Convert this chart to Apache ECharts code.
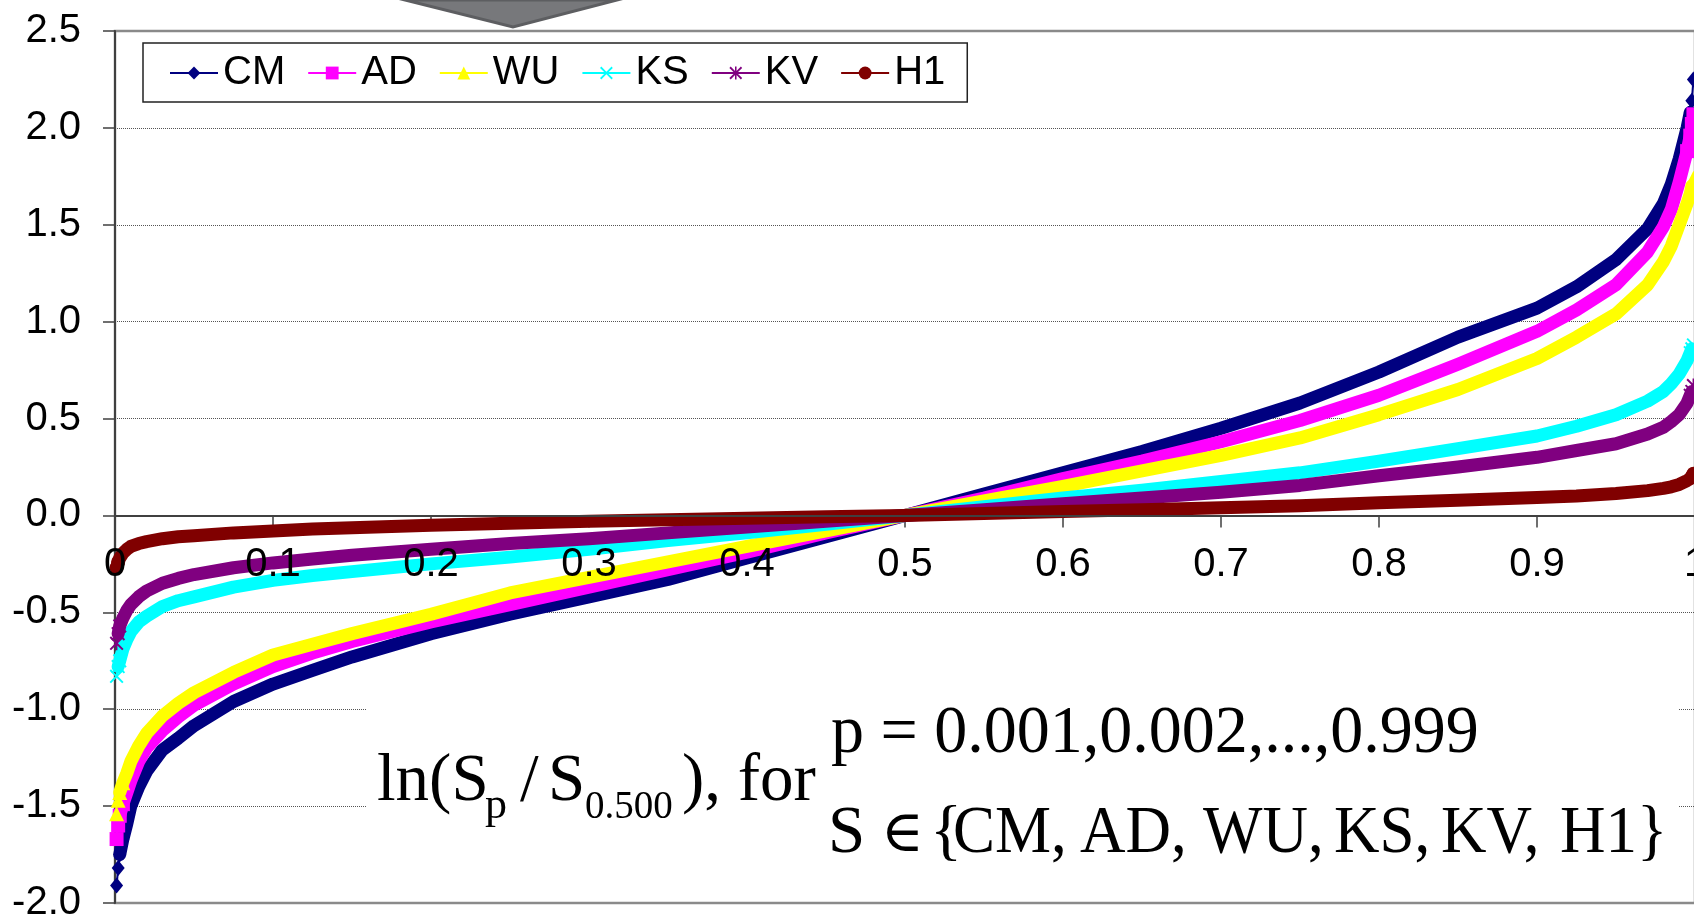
<!DOCTYPE html>
<html>
<head>
<meta charset="utf-8">
<title>ln(Sp / S0.500) curves</title>
<script src="https://cdn.jsdelivr.net/npm/echarts@6/dist/echarts.min.js"></script>
<style>
  html, body { margin: 0; padding: 0; background: #fff; }
  #chart { width: 1694px; height: 917px; }
</style>
</head>
<body>
<div id="chart"></div>
<script>
// ==========================================
// ln(S_p / S_0.500) for six statistics
// ==========================================

var pLevels = [0.001, 0.002, 0.003, 0.005, 0.0075, 0.01, 0.015, 0.02, 0.03, 0.04,
  0.05, 0.075, 0.1, 0.125, 0.15, 0.2, 0.25, 0.3, 0.35, 0.4,
  0.45, 0.5, 0.55, 0.6, 0.65, 0.7, 0.75, 0.8, 0.85, 0.9,
  0.925, 0.95, 0.97, 0.98, 0.985, 0.99, 0.995, 0.997, 0.998, 0.999];

var cmVals = [-1.91, -1.82, -1.75, -1.67, -1.59, -1.50, -1.40, -1.32, -1.21, -1.15,
  -1.085, -0.96, -0.87, -0.80, -0.73, -0.61, -0.51, -0.42, -0.33, -0.22,
  -0.11, 0, 0.11, 0.22, 0.33, 0.45, 0.58, 0.74, 0.92, 1.07,
  1.18, 1.32, 1.48, 1.61, 1.71, 1.84, 2.00, 2.08, 2.14, 2.25];

var adVals = [-1.67, -1.60, -1.55, -1.49, -1.43, -1.37, -1.27, -1.20, -1.11, -1.04,
  -0.98, -0.87, -0.78, -0.71, -0.65, -0.55, -0.46, -0.37, -0.28, -0.19,
  -0.09, 0, 0.09, 0.19, 0.28, 0.38, 0.49, 0.62, 0.78, 0.95,
  1.06, 1.19, 1.36, 1.49, 1.58, 1.72, 1.88, 1.96, 2.02, 2.07];

var wuVals = [-1.54, -1.47, -1.43, -1.38, -1.33, -1.27, -1.19, -1.125, -1.035, -0.97,
  -0.915, -0.81, -0.72, -0.665, -0.61, -0.51, -0.40, -0.32, -0.24, -0.16,
  -0.08, 0, 0.075, 0.15, 0.23, 0.31, 0.40, 0.52, 0.65, 0.81,
  0.92, 1.04, 1.19, 1.31, 1.39, 1.50, 1.61, 1.66, 1.70, 1.74];

var ksVals = [-0.83, -0.78, -0.75, -0.69, -0.64, -0.60, -0.55, -0.52, -0.47, -0.44,
  -0.42, -0.37, -0.335, -0.31, -0.29, -0.25, -0.215, -0.175, -0.13, -0.09,
  -0.045, 0, 0.045, 0.09, 0.13, 0.175, 0.22, 0.28, 0.345, 0.41,
  0.46, 0.52, 0.59, 0.64, 0.68, 0.73, 0.80, 0.84, 0.86, 0.88];

var kvVals = [-0.66, -0.61, -0.57, -0.53, -0.49, -0.46, -0.42, -0.39, -0.35, -0.325,
  -0.305, -0.27, -0.245, -0.225, -0.205, -0.175, -0.145, -0.12, -0.09, -0.06,
  -0.03, 0, 0.03, 0.06, 0.09, 0.12, 0.155, 0.205, 0.25, 0.30,
  0.335, 0.37, 0.42, 0.455, 0.485, 0.52, 0.58, 0.62, 0.64, 0.67];

var h1Vals = [-0.27, -0.24, -0.22, -0.195, -0.175, -0.16, -0.145, -0.135, -0.12, -0.11,
  -0.105, -0.09, -0.08, -0.07, -0.063, -0.05, -0.04, -0.03, -0.022, -0.015,
  -0.007, 0, 0.01, 0.02, 0.03, 0.04, 0.05, 0.065, 0.078, 0.092,
  0.10, 0.113, 0.128, 0.14, 0.148, 0.16, 0.18, 0.19, 0.20, 0.215];

var seriesNames = ['CM', 'AD', 'WU', 'KS', 'KV', 'H1'];
var xTickLabels = ['0', '0.1', '0.2', '0.3', '0.4', '0.5', '0.6', '0.7', '0.8', '0.9', '1'];
var yTickLabels = ['-2.0', '-1.5', '-1.0', '-0.5', '0.0', '0.5', '1.0', '1.5', '2.0', '2.5'];

// styling
var SANS = '"Liberation Sans", Arial, sans-serif';
var SERIF = '"Liberation Serif", "Times New Roman", "DejaVu Serif", serif';
var crossPath = 'path://M1,0L5,4L9,0L10,1L6,5L10,9L9,10L5,6L1,10L0,9L4,5L0,1Z';
var starPath = crossPath + 'M4.4,0L5.6,0L5.6,10L4.4,10Z';

var specs = [
  { vals: cmVals, color: '#000080', symbol: 'diamond', size: [13, 16], band: [2, 37] },
  { vals: adVals, color: '#ff00ff', symbol: 'rect', size: 14, band: [2, 37] },
  { vals: wuVals, color: '#ffff00', symbol: 'triangle', size: 15, band: [2, 38] },
  { vals: ksVals, color: '#00ffff', symbol: crossPath, size: 14, band: [1, 38] },
  { vals: kvVals, color: '#800080', symbol: starPath, size: 14, band: [1, 38] },
  { vals: h1Vals, color: '#800000', symbol: 'circle', size: 14, band: [0, 39] }
];

var series = [];
specs.forEach(function (s, i) {
  var pts = pLevels.map(function (p, k) { return [p, s.vals[k]]; });
  // markers only near the ends, where the original markers stand apart
  var markerPts = pts.map(function (pt, k) {
    var inside = k > s.band[0] + 1 && k < s.band[1] - 1;
    return inside ? { value: pt, symbol: 'none' } : { value: pt };
  });
  series.push({
    name: seriesNames[i], type: 'line', data: markerPts,
    symbol: s.symbol, symbolSize: s.size, showSymbol: true,
    lineStyle: { color: s.color, width: 2 },
    itemStyle: { color: s.color },
    markLine: i === 0 ? {
      silent: true, symbol: 'none', label: { show: false },
      lineStyle: { color: '#404040', width: 2, type: 'solid' },
      data: [{ yAxis: 0 }]
    } : undefined,
    emphasis: { disabled: true }, silent: true
  });
  // dense marker band
  series.push({
    name: seriesNames[i], type: 'line', data: pts.slice(s.band[0], s.band[1] + 1),
    symbol: 'none',
    lineStyle: { color: s.color, width: 13, cap: 'round', join: 'round' },
    itemStyle: { color: s.color },
    emphasis: { disabled: true }, silent: true
  });
});

function txt(text, x, cy, size, sx) {
  return {
    type: 'text', x: x, y: cy, z: 20, silent: true, scaleX: sx || 1,
    style: {
      text: text, fill: '#000', font: size + 'px ' + SERIF,
      textAlign: 'left', textVerticalAlign: 'middle', align: 'left', verticalAlign: 'middle'
    }
  };
}

var chart = echarts.init(document.getElementById('chart'));
chart.setOption({
  animation: false,
  backgroundColor: '#fff',
  grid: {
    left: 115, top: 31, width: 1580, height: 872,
    show: true, borderColor: '#8a8a8a', borderWidth: 2.5,
    containLabel: false, outerBoundsMode: 'none'
  },
  legend: {
    data: seriesNames, left: 143, top: 43,
    itemWidth: 48, itemHeight: 16, itemGap: 22,
    padding: [10, 22, 9, 26],
    borderColor: '#222', borderWidth: 1.5, backgroundColor: '#fff',
    textStyle: { fontFamily: SANS, fontSize: 40, color: '#000' },
    selectedMode: false
  },
  xAxis: [{
    // ticks only; the zero line itself is a markLine under the curves
    type: 'value', min: 0, max: 1, interval: 0.1,
    axisLine: { show: false, onZero: true },
    axisTick: { show: true, length: 12, lineStyle: { color: '#404040', width: 1.5 } },
    axisLabel: { show: false },
    splitLine: { show: false }
  }, {
    // labels drawn above the curves
    type: 'value', min: 0, max: 1, interval: 0.1, position: 'bottom', z: 10,
    offset: -388,
    axisLine: { show: false, onZero: false },
    axisTick: { show: false },
    axisLabel: {
      margin: 30, fontSize: 40, fontFamily: SANS, color: '#000',
      showMinLabel: true, showMaxLabel: true,
      formatter: function (v) { return xTickLabels[Math.round(v * 10)]; }
    },
    splitLine: { show: false }
  }],
  yAxis: {
    type: 'value', min: -2, max: 2.5, interval: 0.5,
    axisLine: { show: true, onZero: false, lineStyle: { color: '#404040', width: 2 } },
    axisTick: { show: true, length: 12, lineStyle: { color: '#404040', width: 1.5 } },
    axisLabel: {
      margin: 34, fontSize: 40, fontFamily: SANS, color: '#000',
      showMinLabel: true, showMaxLabel: true,
      formatter: function (v) { return yTickLabels[Math.round((v + 2) / 0.5)]; }
    },
    splitLine: {
      show: true, showMinLine: false, showMaxLine: false,
      lineStyle: { color: '#555', width: 1, type: [1, 1] }
    }
  },
  graphic: [
    {
      type: 'polygon', z: 20, silent: true,
      shape: { points: [[405, 0], [617, 0], [513, 27]] },
      style: { fill: '#77787b', stroke: '#5d5e61', lineWidth: 3 }
    },
    {
      type: 'rect', z: 1, silent: true,
      shape: { x: 366, y: 670, width: 1312, height: 229 },
      style: { fill: '#fff' }
    },
    txt('ln(S', 377, 782, 67),
    txt('p', 485, 806, 44),
    txt('/', 520, 782, 67),
    txt('S', 548, 782, 67),
    txt('0.500', 585, 808, 39),
    txt('), for', 682, 782, 67),
    txt('p = 0.001,0.002,...,0.999', 831, 734, 67, 0.985),
    txt('S', 828, 834, 67),
    txt('\u2208', 881, 836, 58),
    txt('{', 930, 834, 67),
    txt('CM,', 953, 834, 67, 0.94),
    txt('AD,', 1080, 834, 67, 0.94),
    txt('WU,', 1203, 834, 67, 0.94),
    txt('KS,', 1334, 834, 67, 0.94),
    txt('KV,', 1441, 834, 67, 0.94),
    txt('H1}', 1560, 834, 67, 0.94)
  ],
  series: series
});
</script>
</body>
</html>
